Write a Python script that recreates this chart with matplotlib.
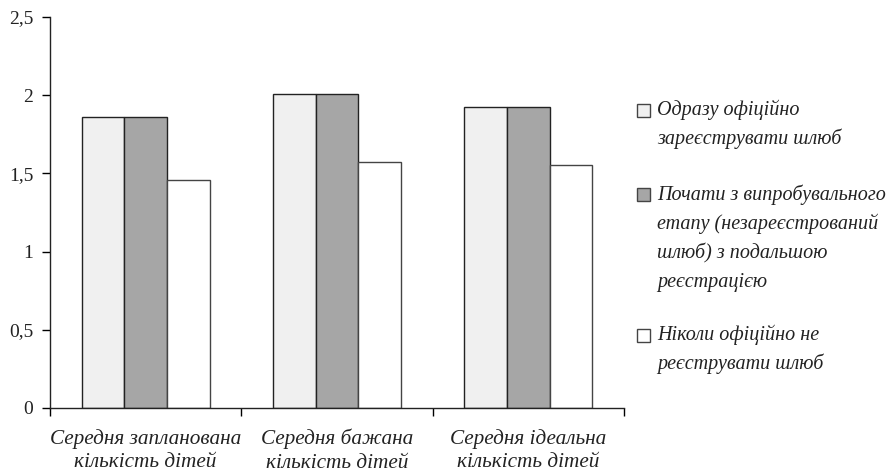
import matplotlib
matplotlib.use("Agg")
import matplotlib.pyplot as plt
import numpy as np
from matplotlib.patches import Rectangle

categories = ["Середня запланована\nкількість дітей",
              "Середня бажана\nкількість дітей",
              "Середня ідеальна\nкількість дітей"]
series_names = ["Одразу офіційно\nзареєструвати шлюб",
                "Почати з випробувального\nетапу (незареєстрований\nшлюб) з подальшою\nреєстрацією",
                "Ніколи офіційно не\nреєструвати шлюб"]
values_immediately = [1.86, 2.005, 1.923]
values_trial = [1.86, 2.01, 1.926]
values_never = [1.46, 1.575, 1.552]
yticks = [0, 0.5, 1, 1.5, 2, 2.5]
ytick_labels = ["0", "0,5", "1", "1,5", "2", "2,5"]

colors = ["#f0f0f0", "#a6a6a6", "#ffffff"]
edges = ["#222222", "#222222", "#444444"]
all_vals = [values_immediately, values_trial, values_never]

plt.rcParams['font.family'] = ['Liberation Serif', 'DejaVu Serif']
fig = plt.figure(figsize=(8.89, 4.72), dpi=100)
W, H = 889, 472
ax = fig.add_axes([50 / W, 1 - 408 / H, (624 - 50) / W, (408 - 17) / H])

x = np.arange(len(categories))
bw = 0.223
for i, vals in enumerate(all_vals):
    ax.bar(x + (i - 1) * bw, vals, width=bw, color=colors[i],
           edgecolor=edges[i], linewidth=1.0, zorder=2)

ax.set_xlim(-0.5, len(categories) - 0.5)
ax.set_ylim(0, 2.5)
ax.set_yticks(yticks)
ax.set_yticklabels(ytick_labels, fontsize=14, color="#222222")
ax.tick_params(axis='y', length=6, width=1, direction='out', pad=6)
ax.set_xticks(x)
ax.set_xticklabels(categories, fontsize=15.3, style='italic', linespacing=1.32,
                   color="#222222")
ax.set_xticks(np.arange(len(categories) + 1) - 0.5, minor=True)
ax.tick_params(axis='x', which='major', length=0, pad=15)
ax.tick_params(axis='x', which='minor', length=6, width=1, direction='out')
for s in ['top', 'right']:
    ax.spines[s].set_visible(False)
for s in ['left', 'bottom']:
    ax.spines[s].set_color("#222222")
    ax.spines[s].set_linewidth(1)

# legend drawn manually
first_centers = [110, 195, 335]
step = 29
sq = 13
for i, name in enumerate(series_names):
    cy = first_centers[i]
    fig.patches.append(Rectangle((637 / W, 1 - (cy + sq / 2) / H), sq / W, sq / H,
                                 transform=fig.transFigure, facecolor=colors[i],
                                 edgecolor="#444444", linewidth=1))
    for j, line in enumerate(name.split("\n")):
        fig.text(657 / W, 1 - (cy + j * step) / H, line, fontsize=14.5,
                 style='italic', va='center', ha='left', color="#222222")

fig.savefig("out.png", dpi=100)
